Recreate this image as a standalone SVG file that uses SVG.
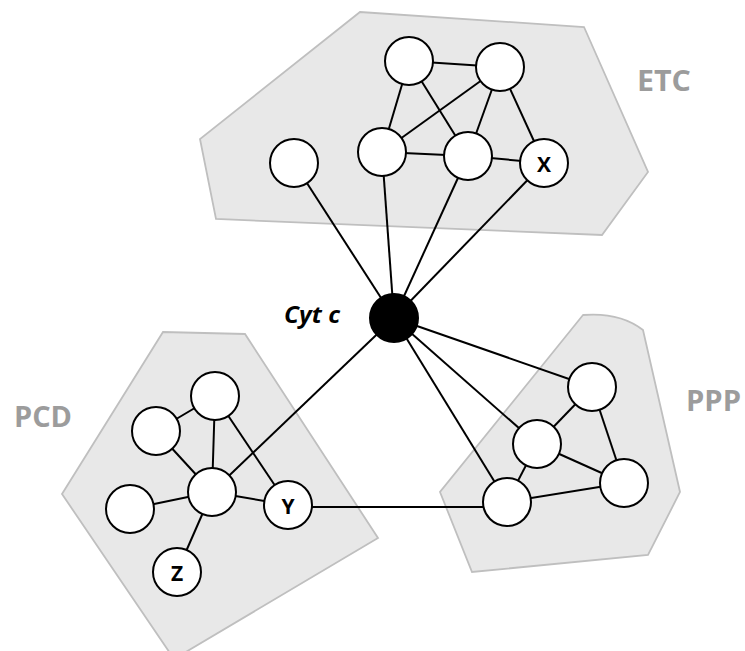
<svg xmlns="http://www.w3.org/2000/svg" width="745" height="651" viewBox="0 0 745 651">
<style>
.region{fill:#e8e8e8;stroke:#bfbfbf;stroke-width:1.8;stroke-linejoin:miter}
.edge{stroke:#000;stroke-width:2;fill:none}
.node{fill:#fff;stroke:#000;stroke-width:2}
.hub{fill:#000;stroke:#000;stroke-width:2}
.glabel{font-family:"Open Sans","Liberation Sans",sans-serif;font-weight:700;font-size:28px;fill:#9c9c9c}
.nlabel{font-family:"Open Sans","Liberation Sans",sans-serif;font-weight:700;font-size:21px;fill:#000;text-anchor:middle;dominant-baseline:central}
.hlabel{font-family:"Open Sans","Liberation Sans",sans-serif;font-weight:700;font-style:italic;font-size:24px;fill:#000}
</style>
<rect width="745" height="651" fill="#fff"/>
<g id="regions">
<polygon id="region-etc" class="region" points="360,12 584,27 648,172 602,235 216,219 200,139"/>
<polygon id="region-pcd" class="region" points="163,332 245,334 378,538 174,659 62,494"/>
<path id="region-ppp" class="region" d="M583,315 Q620,312 643,330 L680,492 L648,555 L472,572 L440,492 Z"/>
</g>
<g id="connectors">
<line class="edge" x1="409" y1="61" x2="500" y2="67"/>
<line class="edge" x1="409" y1="61" x2="382" y2="152"/>
<line class="edge" x1="409" y1="61" x2="468" y2="156"/>
<line class="edge" x1="500" y1="67" x2="382" y2="152"/>
<line class="edge" x1="500" y1="67" x2="468" y2="156"/>
<line class="edge" x1="500" y1="67" x2="544" y2="163"/>
<line class="edge" x1="382" y1="152" x2="468" y2="156"/>
<line class="edge" x1="468" y1="156" x2="544" y2="163"/>
<line class="edge" x1="394" y1="318" x2="294" y2="163"/>
<line class="edge" x1="394" y1="318" x2="382" y2="152"/>
<line class="edge" x1="394" y1="318" x2="468" y2="156"/>
<line class="edge" x1="394" y1="318" x2="544" y2="163"/>
<line class="edge" x1="394" y1="318" x2="212" y2="492"/>
<line class="edge" x1="394" y1="318" x2="592" y2="387"/>
<line class="edge" x1="394" y1="318" x2="537" y2="444"/>
<line class="edge" x1="394" y1="318" x2="507" y2="502"/>
<line class="edge" x1="215" y1="396" x2="156" y2="431"/>
<line class="edge" x1="215" y1="396" x2="212" y2="492"/>
<line class="edge" x1="215" y1="396" x2="288" y2="505"/>
<line class="edge" x1="156" y1="431" x2="212" y2="492"/>
<line class="edge" x1="130" y1="509" x2="212" y2="492"/>
<line class="edge" x1="212" y1="492" x2="288" y2="505"/>
<line class="edge" x1="212" y1="492" x2="177" y2="572"/>
<line class="edge" x1="300" y1="507" x2="490" y2="507"/>
<line class="edge" x1="592" y1="387" x2="537" y2="444"/>
<line class="edge" x1="592" y1="387" x2="624" y2="483"/>
<line class="edge" x1="537" y1="444" x2="624" y2="483"/>
<line class="edge" x1="537" y1="444" x2="507" y2="502"/>
<line class="edge" x1="507" y1="502" x2="624" y2="483"/>
</g>
<g id="node-cytc"><circle class="hub" cx="394" cy="318" r="24"/><text class="hlabel" x="284" y="323" textLength="56" lengthAdjust="spacingAndGlyphs">Cyt c</text></g>
<g id="etc-1"><circle class="node" cx="409" cy="61" r="24"/></g>
<g id="etc-2"><circle class="node" cx="500" cy="67" r="24"/></g>
<g id="etc-3"><circle class="node" cx="382" cy="152" r="24"/></g>
<g id="etc-4"><circle class="node" cx="468" cy="156" r="24"/></g>
<g id="etc-x"><circle class="node" cx="544" cy="163" r="24"/><text class="nlabel" x="544" y="164">X</text></g>
<g id="etc-5"><circle class="node" cx="294" cy="163" r="24"/></g>
<g id="pcd-1"><circle class="node" cx="215" cy="396" r="24"/></g>
<g id="pcd-2"><circle class="node" cx="156" cy="431" r="24"/></g>
<g id="pcd-3"><circle class="node" cx="212" cy="492" r="24"/></g>
<g id="pcd-4"><circle class="node" cx="130" cy="509" r="24"/></g>
<g id="pcd-y"><circle class="node" cx="288" cy="505" r="24"/><text class="nlabel" x="288" y="506">Y</text></g>
<g id="pcd-z"><circle class="node" cx="177" cy="572" r="24"/><text class="nlabel" x="177" y="573">Z</text></g>
<g id="ppp-1"><circle class="node" cx="592" cy="387" r="24"/></g>
<g id="ppp-2"><circle class="node" cx="537" cy="444" r="24"/></g>
<g id="ppp-3"><circle class="node" cx="624" cy="483" r="24"/></g>
<g id="ppp-4"><circle class="node" cx="507" cy="502" r="24"/></g>
<g id="labels">
<text class="glabel" x="637" y="91" textLength="54" lengthAdjust="spacingAndGlyphs">ETC</text>
<text class="glabel" x="686" y="411" textLength="55" lengthAdjust="spacingAndGlyphs">PPP</text>
<text class="glabel" x="14" y="427" textLength="58" lengthAdjust="spacingAndGlyphs">PCD</text>
</g>
</svg>
